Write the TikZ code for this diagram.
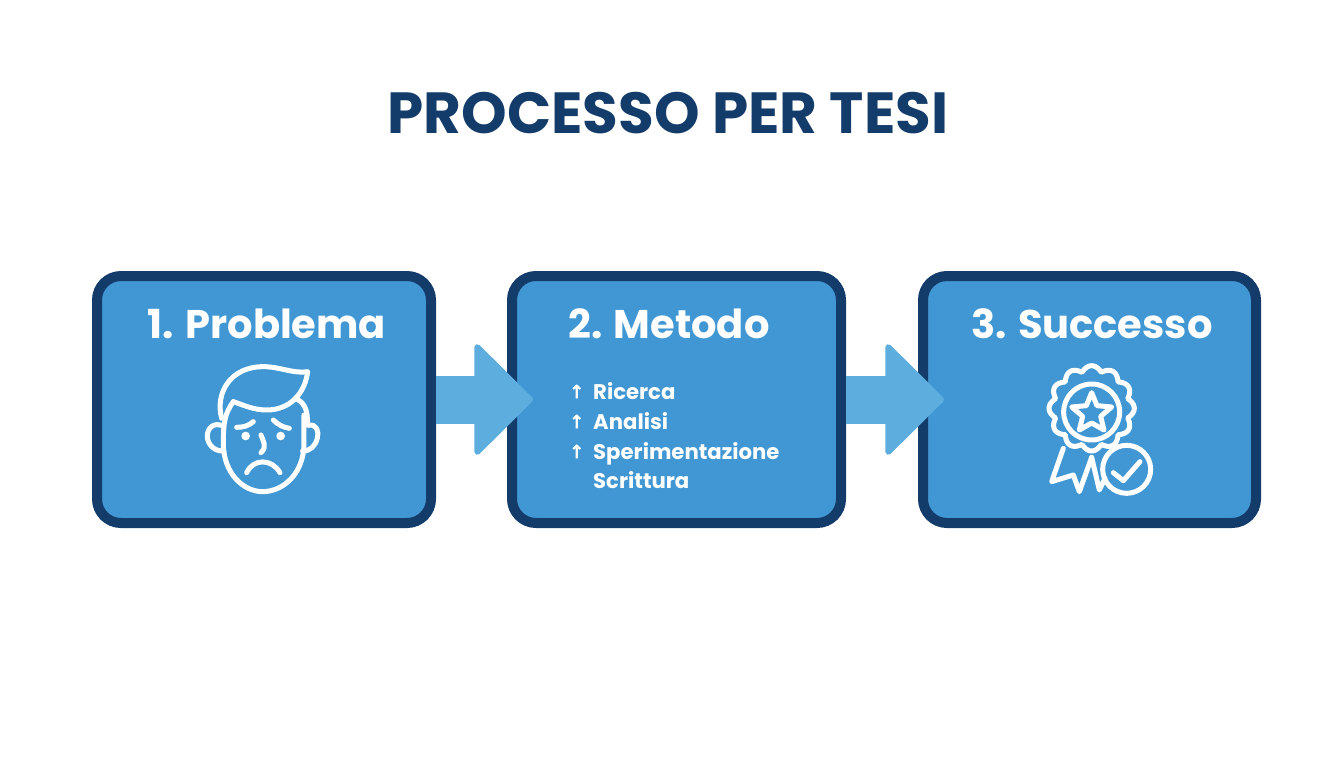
\documentclass[tikz,border=0pt]{standalone}
\usepackage{fontspec}
\setmainfont{Poppins}
\newfontfamily\arrowfont[FakeBold=3]{DejaVu Sans}
\usepackage{tikz}
\usetikzlibrary{positioning}
\usetikzlibrary{arrows.meta}
\definecolor{boxblue}{HTML}{4097D3}
\definecolor{darkblue}{HTML}{143C6A}
\definecolor{flowblue}{HTML}{5DAEDF}

\tikzset{
  stagebox/.style={draw=darkblue, fill=boxblue, line width=10pt, rounded corners=24pt, minimum height=247pt},
  stagetitle/.style={text=white, anchor=base, font=\fontsize{40}{40}\selectfont\bfseries},
  itemtext/.style={text=white, anchor=base west, inner sep=0pt, font=\fontsize{21.2}{24}\selectfont\bfseries},
  itemmark/.style={text=white, anchor=base west, inner sep=0pt, font=\fontsize{18}{24}\selectfont\arrowfont},
  flowarrow/.style={line width=48pt, flowblue, shorten >=-26pt, -{Triangle[length=60pt, width=118pt, round, line width=6pt]}},
  iconline/.style={draw=white, line width=5pt, line cap=round, line join=round}
}

\begin{document}
\begin{tikzpicture}[x=1pt, y=-1pt]
  \useasboundingbox (0,0) rectangle (1344,768);
  \node (title) [text=darkblue, font=\fontsize{58}{58}\selectfont\bfseries, anchor=base] at (668,133) {PROCESSO PER TESI};

  \node (problema) [stagebox, minimum width=334pt] at (264,399.5) {};
  \node (metodo) [stagebox, minimum width=329pt, right = 71pt of problema] {};
  \node (successo) [stagebox, minimum width=333pt, right = 72pt of metodo] {};

  \draw[flowarrow] (problema.east) -- (metodo.west);
  \draw[flowarrow] (metodo.east) -- (successo.west);

  \node (problemalabel) [stagetitle] at (267,338) {1. Problema};
  \node (metodolabel) [stagetitle] at (669,338) {2. Metodo};
  \node (successolabel) [stagetitle] at (1092,338) {3. Successo};

  \foreach \name/\ypos/\word in {ricerca/399/Ricerca, analisi/429/Analisi, sperim/459/Sperimentazione, scrittura/488/Scrittura}
    \node (\name) [itemtext] at (593,\ypos) {\word};
  \foreach \name/\ypos in {marka/398, markb/428, markc/458}
    \node (\name) [itemmark] at (569,\ypos) {↑};

  % sad face
  \begin{scope}[shift={(180,350)}, x=0.3333pt, y=-0.3333pt, iconline]
    \draw (160,155) .. controls (135,190) and (130,215) .. (130,280)
      .. controls (130,370) and (190,425) .. (248,425)
      .. controls (310,425) and (372,370) .. (372,280) -- (372,195);
    \draw (125,205) .. controls (105,130) and (150,50) .. (250,50)
      .. controls (300,50) and (340,72) .. (383,65)
      .. controls (375,130) and (330,180) .. (260,180)
      .. controls (220,180) and (190,165) .. (160,155);
    \draw (345,145) .. controls (370,155) and (385,175) .. (382,225);
    \draw (130,228) .. controls (100,215) and (82,235) .. (82,258)
      .. controls (82,285) and (105,305) .. (132,303);
    \draw (385,226) .. controls (410,220) and (418,245) .. (412,265)
      .. controls (405,290) and (390,303) .. (368,303);
    \draw (170,232) .. controls (190,232) and (205,228) .. (220,215);
    \draw (280,210) .. controls (295,225) and (310,232) .. (328,235);
    \fill[white] (197,258) circle (13);
    \fill[white] (302,258) circle (13);
    \draw (243,255) .. controls (250,275) and (262,290) .. (243,308);
    \draw (200,368) .. controls (220,325) and (275,325) .. (300,368);
  \end{scope}

  % medal
  \begin{scope}[shift={(1020,350)}, x=0.3333pt, y=-0.3333pt, iconline]
    \draw[smooth] plot[domain=0:360, samples=145] ({215+(112+16*abs(cos(6*(\x-90))))*cos(\x)}, {175+(112+16*abs(cos(6*(\x-90))))*sin(\x)}) -- cycle;
    \draw (215,186) circle (84);
    \draw (215,128) -- (231,167) -- (275,171) -- (242,199) -- (252,240) -- (215,219) -- (178,240) -- (188,199) -- (155,171) -- (199,167) -- cycle;
    \draw (130,295) -- (95,395) -- (160,375) -- (178,425) -- (215,322);
    \draw (215,322) -- (238,420) -- (255,385);
    \draw (320,358) circle (72);
    \draw (280,368) -- (310,392) -- (360,335);
  \end{scope}
\end{tikzpicture}
\end{document}
